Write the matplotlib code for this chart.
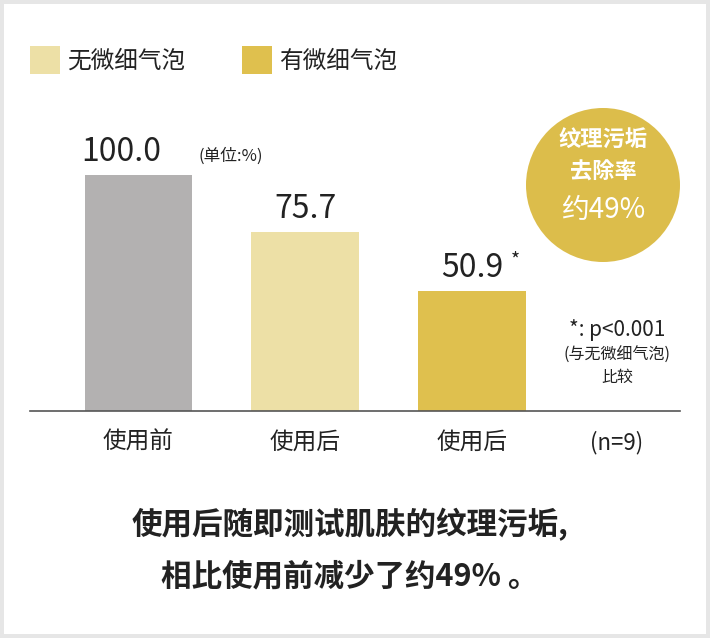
import matplotlib
matplotlib.use("Agg")
import matplotlib.pyplot as plt
from matplotlib.patches import Ellipse, Rectangle
from matplotlib import font_manager as fm

cjk = None
for f in fm.fontManager.ttflist:
    if "CJK" in f.name and ("SC" in f.name or cjk is None):
        cjk = f.name
        if "SC" in f.name:
            break
plt.rcParams["font.family"] = [cjk or "Noto Sans CJK SC", "DejaVu Sans"]

categories = ["使用前", "使用后", "使用后"]
values = [100.0, 75.7, 50.9]
value_labels = ["100.0", "75.7", "50.9"]
colors = ["#b3b1b1", "#ede0a6", "#dfc04e"]
legend_labels = ["无微细气泡", "有微细气泡"]

W, H = 710, 638
fig = plt.figure(figsize=(W/100, H/100), dpi=100)
fig.patch.set_facecolor("#e6e6e6")
fig.add_artist(Rectangle((4/W, 4/H), (W-8)/W, (H-8)/H, transform=fig.transFigure,
                         facecolor="white", edgecolor="none", zorder=0))

def fx(px): return px / W
def fy(py): return 1 - py / H

ax = fig.add_axes([fx(30), fy(411), fx(680) - fx(30), fy(100) - fy(411)])
ax.set_facecolor("none")
ax.set_xlim((30-138)/167, (680-138)/167)
ax.set_ylim(0, 100*(411-100)/236)
x = list(range(len(values)))
ax.bar(x, values, width=107/167, color=colors)
for s in ["top", "right", "left"]:
    ax.spines[s].set_visible(False)
ax.spines["bottom"].set_color("#555555")
ax.spines["bottom"].set_linewidth(1.2)
ax.set_yticks([])
ax.set_xticks(x)
ax.set_xticklabels(categories, fontsize=17, color="#222222")
ax.tick_params(axis="x", length=0, pad=14)

for i, (v, lab) in enumerate(zip(values, value_labels)):
    xx = i - 0.1 if i == 0 else i
    ax.text(xx, v + 3, lab, ha="center", va="bottom", fontsize=23, color="#222222")
ax.text(0.36, 104.5, "(单位:%)", ha="left", va="bottom", fontsize=12, color="#222222")
ax.text(2.23, 59, "*", ha="left", va="bottom", fontsize=14, color="#222222")

for i, (lab, c) in enumerate(zip(legend_labels, [colors[1], colors[2]])):
    x0 = 30 + i*212
    fig.add_artist(Rectangle((fx(x0), fy(74)), 30/W, 28/H, transform=fig.transFigure,
                             facecolor=c, edgecolor="none"))
    fig.text(fx(x0 + 37), fy(61), lab, fontsize=17, va="center", ha="left", color="#222222")

fig.add_artist(Ellipse((fx(603), fy(185)), 154/W, 154/H, transform=fig.transFigure,
                       facecolor="#dcbd4b", edgecolor="none"))
fig.text(fx(603), fy(140), "纹理污垢", ha="center", va="center", fontsize=16,
         color="white", fontweight="bold")
fig.text(fx(603), fy(172), "去除率", ha="center", va="center", fontsize=16,
         color="white", fontweight="bold")
fig.text(fx(603), fy(210), "约49%", ha="center", va="center", fontsize=20, color="white")

fig.text(fx(617), fy(330), "*: p<0.001", ha="center", va="center", fontsize=15, color="#222222")
fig.text(fx(617), fy(366), "(与无微细气泡)\n比较", ha="center", va="center",
         fontsize=11.5, color="#222222", linespacing=1.4)
fig.text(fx(617), fy(443), "(n=9)", ha="center", va="center", fontsize=16, color="#222222")

fig.text(fx(350), fy(525), "使用后随即测试肌肤的纹理污垢,", ha="center", va="center",
         fontsize=22, fontweight="bold", color="#222222")
fig.text(fx(350), fy(576), "相比使用前减少了约49% 。", ha="center", va="center",
         fontsize=22, fontweight="bold", color="#222222")

fig.savefig("out.png", dpi=100)
